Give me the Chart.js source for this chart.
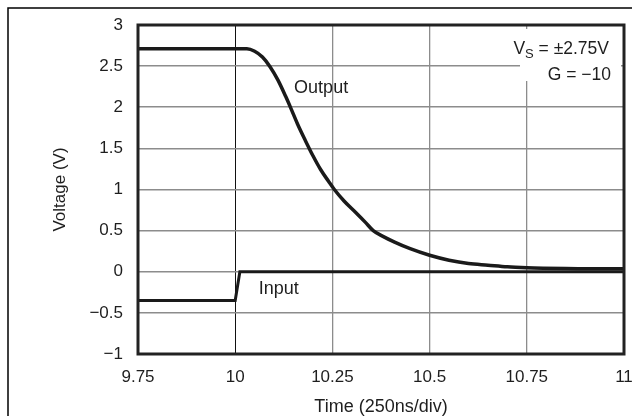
<!DOCTYPE html>
<html>
<head>
<meta charset="utf-8">
<script src="https://cdn.jsdelivr.net/npm/chart.js@4.4.1/dist/chart.umd.min.js"></script>
<style>
  html, body { margin: 0; padding: 0; background: #ffffff; }
  #wrap { width: 632px; height: 416px; }
</style>
</head>
<body>
<div id="wrap"><canvas id="c" width="632" height="416"></canvas></div>
<script>
// ---- data ----
const outputTime    = [9.75, 9.80, 9.85, 9.90, 9.95, 10.00, 10.03, 10.05, 10.07, 10.09, 10.11, 10.13, 10.143, 10.16, 10.18, 10.20, 10.22, 10.24, 10.255, 10.28, 10.31, 10.335, 10.355, 10.38, 10.41, 10.45, 10.50, 10.55, 10.60, 10.65, 10.70, 10.75, 10.85, 10.95, 11.00];
const outputVoltage = [2.71, 2.71, 2.71, 2.71, 2.71, 2.71, 2.71, 2.68, 2.61, 2.49, 2.33, 2.13, 1.99, 1.80, 1.60, 1.41, 1.24, 1.10, 1.00, 0.86, 0.72, 0.60, 0.50, 0.43, 0.36, 0.28, 0.20, 0.14, 0.10, 0.08, 0.06, 0.05, 0.04, 0.035, 0.035];
const inputTime     = [9.75, 10.00, 10.012, 11.00];
const inputVoltage  = [-0.35, -0.35, 0.00, 0.00];
const seriesNames   = ["Output", "Input"];
const xTitle = "Time (250ns/div)";
const yTitle = "Voltage (V)";
const annotLine1 = ["V", "S", " = \u00b12.75V"];
const annotLine2 = "G = \u221210";

const FONT = "'Liberation Sans', Arial, Helvetica, sans-serif";
const INK = "#1e1e1e";

function pairs(xs, ys) { return xs.map((x, i) => ({ x: x, y: ys[i] })); }

const decor = {
  id: 'decor',
  beforeDraw(chart) {
    const ctx = chart.ctx;
    ctx.save();
    ctx.strokeStyle = '#000';
    ctx.lineWidth = 1.5;
    ctx.strokeRect(8, 8, 800, 600);
    ctx.restore();
  },
  beforeDatasetsDraw(chart) {
    const ctx = chart.ctx;
    ctx.save();
    ctx.fillStyle = '#ffffff';
    ctx.fillRect(520, 29, 101, 52);
    ctx.restore();
  },
  afterDatasetsDraw(chart) {
    const ctx = chart.ctx;
    const a = chart.chartArea;
    const xs = chart.scales.x, ys = chart.scales.y;
    ctx.save();
    ctx.strokeStyle = '#222';
    ctx.lineWidth = 3;
    ctx.strokeRect(a.left, a.top, a.right - a.left, a.bottom - a.top);

    ctx.fillStyle = INK;
    ctx.font = '18px ' + FONT;
    ctx.textBaseline = 'middle';
    ctx.textAlign = 'center';
    ctx.fillText(seriesNames[0], xs.getPixelForValue(10.221), ys.getPixelForValue(2.23));
    ctx.fillText(seriesNames[1], xs.getPixelForValue(10.112), ys.getPixelForValue(-0.21));

    ctx.textBaseline = 'alphabetic';
    ctx.textAlign = 'left';
    const big = '17.5px ' + FONT, small = '13px ' + FONT;
    ctx.font = big;
    const w3 = ctx.measureText(annotLine1[2]).width;
    const w1 = ctx.measureText(annotLine1[0]).width;
    ctx.font = small;
    const w2 = ctx.measureText(annotLine1[1]).width;
    const right = 609, base = 54;
    const x0 = right - w3 - w2 - w1;
    ctx.font = big;
    ctx.fillText(annotLine1[0], x0, base);
    ctx.font = small;
    ctx.fillText(annotLine1[1], x0 + w1, base + 4);
    ctx.font = big;
    ctx.fillText(annotLine1[2], x0 + w1 + w2, base);
    ctx.textAlign = 'right';
    ctx.fillText(annotLine2, 611, 80);
    ctx.restore();
  }
};

new Chart(document.getElementById('c'), {
  type: 'line',
  data: {
    datasets: [
      {
        label: seriesNames[0],
        data: pairs(outputTime, outputVoltage),
        borderColor: '#1a1a1a',
        borderWidth: 3.5,
        pointRadius: 0,
        cubicInterpolationMode: 'monotone',
        fill: false
      },
      {
        label: seriesNames[1],
        data: pairs(inputTime, inputVoltage),
        borderColor: '#1a1a1a',
        borderWidth: 3,
        pointRadius: 0,
        tension: 0,
        fill: false
      }
    ]
  },
  options: {
    responsive: false,
    animation: false,
    devicePixelRatio: 1,
    layout: { padding: { left: 8, top: 25, right: 8, bottom: 0 } },
    plugins: { legend: { display: false }, tooltip: { enabled: false } },
    scales: {
      x: {
        type: 'linear',
        min: 9.75, max: 11,
        afterFit(s) { s.height = 62; s.paddingLeft = 0; s.paddingRight = 0; },
        ticks: {
          stepSize: 0.25,
          color: INK,
          font: { family: FONT, size: 17 },
          padding: 13,
          maxRotation: 0,
          autoSkip: false,
          callback: v => String(Math.round(v * 100) / 100)
        },
        grid: {
          drawTicks: false,
          color: ctx => (ctx.tick && Math.abs(ctx.tick.value - 10) < 1e-6) ? '#111' : '#8c8c8c',
          lineWidth: ctx => (ctx.tick && Math.abs(ctx.tick.value - 10) < 1e-6) ? 1 : 1.3
        },
        border: { display: false },
        title: {
          display: true,
          text: xTitle,
          color: INK,
          font: { family: FONT, size: 18, lineHeight: 1 },
          padding: { top: 0, bottom: 0 }
        }
      },
      y: {
        type: 'linear',
        min: -1, max: 3,
        afterFit(s) { s.width = 130; s.paddingTop = 0; s.paddingBottom = 0; },
        ticks: {
          stepSize: 0.5,
          color: INK,
          font: { family: FONT, size: 17 },
          padding: 15,
          callback: v => { const r = Math.round(v * 10) / 10; return r < 0 ? '\u2212' + String(-r) : String(r); }
        },
        grid: { drawTicks: false, color: '#8c8c8c', lineWidth: 1.6 },
        border: { display: false },
        title: {
          display: true,
          text: yTitle,
          color: INK,
          font: { family: FONT, size: 17 },
          padding: { top: 42, bottom: 0 }
        }
      }
    }
  },
  plugins: [decor]
});
</script>
</body>
</html>
